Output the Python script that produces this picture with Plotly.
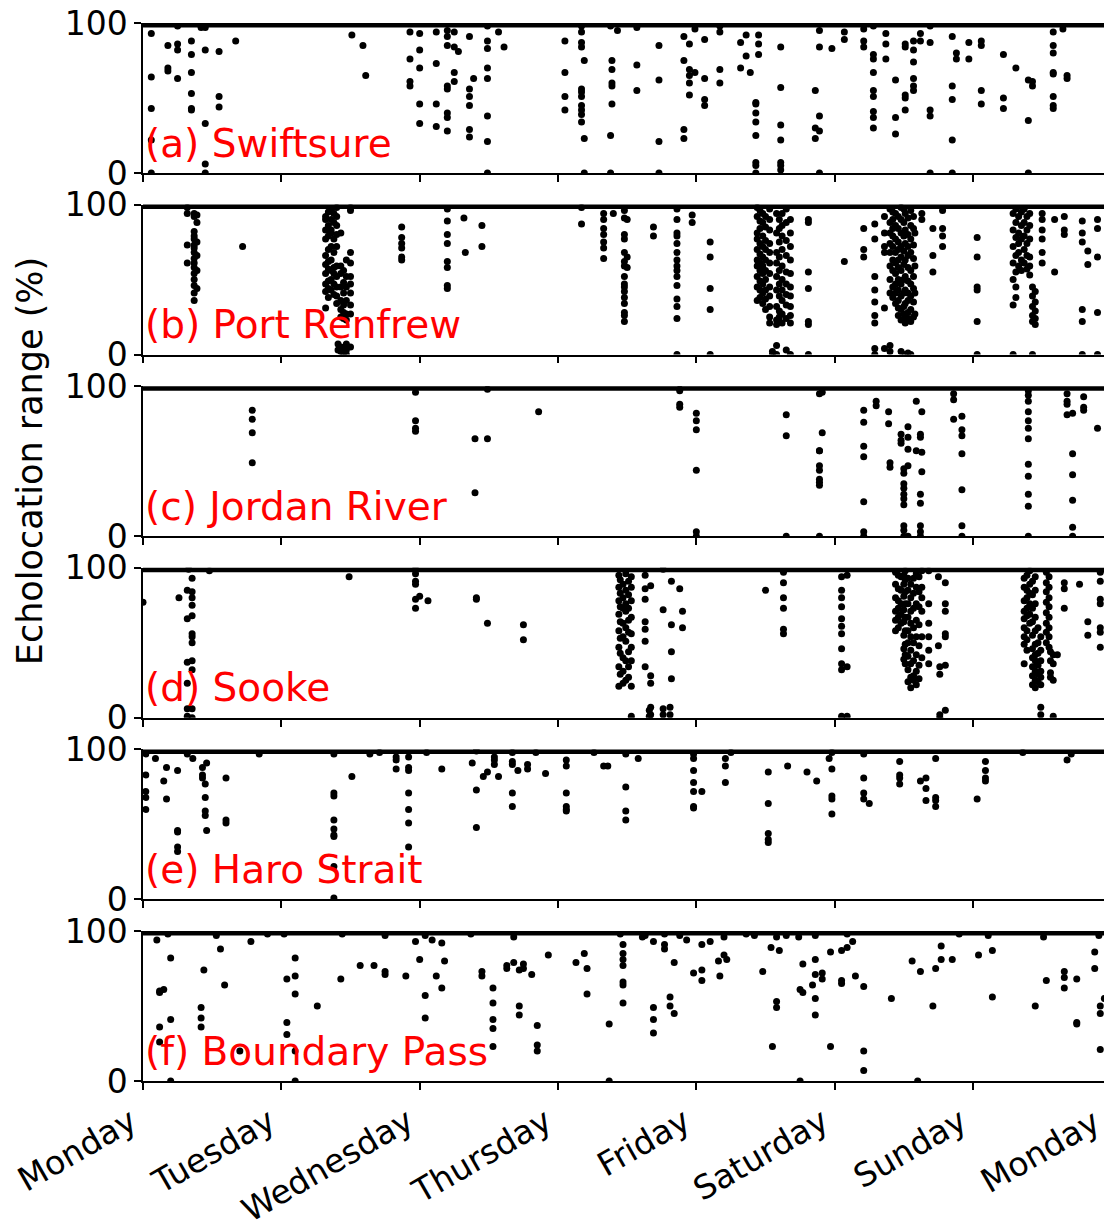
import plotly.graph_objects as go

# ---------------- data ----------------
day_names = ["Monday", "Tuesday", "Wednesday", "Thursday", "Friday",
             "Saturday", "Sunday", "Monday"]
tick_days = [0, 1, 2, 3, 4, 5, 6, 7]
week_start, week_end = 0, 7
x_view_end = 6.947          # the week runs slightly past the right edge
max_range = 100
y_ticks = [0, 100]

panel_titles = ["(a) Swiftsure", "(b) Port Renfrew", "(c) Jordan River",
                "(d) Sooke", "(e) Haro Strait", "(f) Boundary Pass"]

# (day since Monday, [echolocation range % detections])
swiftsure = [
    (0.06, [93, 64, 43, 22, 0]), (0.18, [85, 70, 68]), (0.25, [98, 86, 82, 63]),
    (0.35, [88, 79, 67, 53, 43, 42]), (0.42, [98, 97]), (0.45, [97, 82, 33, 6, 0]),
    (0.55, [81, 51, 44]), (0.67, [88]), (1.51, [92]), (1.59, [85]), (1.61, [65]),
    (1.93, [94, 76, 61, 58]), (2.00, [93, 82, 70, 46, 33]), (2.12, [94, 73, 46, 31]),
    (2.20, [95, 91, 85, 58, 56, 40, 37, 28]), (2.25, [94, 84, 67, 61]), (2.28, [81]),
    (2.36, [91, 56, 51, 45, 29, 24]), (2.39, [63]),
    (2.49, [98, 88, 83, 70, 63, 38, 21, 0]), (2.57, [94]), (2.61, [84]),
    (3.05, [88, 67, 51, 42]), (3.17, [98, 94, 87, 84, 56, 54, 51, 45, 42, 39, 34]),
    (3.19, [75, 23, 0]), (3.38, [98, 25, 0]), (3.39, [75, 69, 60, 58, 46]),
    (3.43, [95]), (3.57, [97, 72, 55]), (3.73, [85, 62, 21, 0]),
    (3.91, [91, 75, 29, 23]), (3.95, [86, 69, 65, 60, 52]), (3.99, [96, 67]),
    (4.06, [89, 63, 49, 45]), (4.17, [98, 94, 69, 60]), (4.32, [87, 70]),
    (4.36, [92, 78]), (4.39, [67]), (4.43, [47, 46, 40, 34, 25, 7, 5, 0]),
    (4.45, [92, 86, 79]), (4.61, [84, 57, 32, 22, 7, 5, 2]), (4.86, [55, 30, 23]),
    (4.89, [95, 84, 38, 28, 0]), (4.98, [83]), (5.07, [94, 89]), (5.21, [96, 88, 84]),
    (5.28, [98, 79, 76, 67, 55, 51, 41, 37, 30]), (5.37, [93, 86, 76]),
    (5.44, [62, 37, 26]), (5.51, [86, 84, 52, 50, 42]), (5.57, [88, 82, 74, 63, 58, 55]),
    (5.62, [93, 88]), (5.69, [98, 87, 42, 38, 0]), (5.85, [91, 58, 49, 22, 0]),
    (5.88, [80, 76]), (5.97, [87, 76]), (6.06, [88, 85, 55, 46]), (6.22, [79, 50, 43]),
    (6.31, [70]), (6.40, [62, 35, 0]), (6.43, [61, 58]),
    (6.58, [94, 85, 80, 67, 66, 51, 45, 43]), (6.65, [96]), (6.68, [65, 63]),
]

port_renfrew = [
    (0.32, [98, 94, 73, 61]),
    (0.37, [94, 92, 82, 79, 77, 73, 71, 68, 64, 61, 58, 54, 50, 46, 41, 36]),
    (0.39, [93, 88, 75, 66, 56, 44]), (0.72, [72]),
    (1.32, [92, 90, 83, 77, 66, 60, 54, 47, 42, 31]),
    (1.34, [95, 86, 79, 70, 62, 57, 49, 44, 38]),
    (1.36, [96, 90, 83, 81, 72, 63, 56, 50, 43]),
    (1.38, [94, 88, 77, 68, 58, 54, 47, 40]),
    (1.40, [98, 92, 86, 80, 72, 59, 52, 45, 39, 34]), (1.41, [7, 3]),
    (1.43, [81, 59, 54, 45, 36, 30, 25, 5, 2]),
    (1.45, [56, 48, 41, 33, 28, 24, 4, 1]),
    (1.47, [63, 52, 45, 36, 27, 23, 7, 3, 0]),
    (1.50, [98, 96, 68, 61, 52, 47, 41, 33, 27, 5]),
    (1.87, [85, 78, 74, 71, 65, 63]), (2.20, [97, 89, 80, 74, 62, 58, 46, 44]),
    (2.32, [91]), (2.33, [68]), (2.45, [86, 72]),
    (3.17, [98, 87]), (3.33, [94, 90, 84, 80, 75, 71, 64]), (3.40, [94]),
    (3.48, [96, 91, 80, 77, 68, 62, 59, 52, 47, 45, 42, 38, 34, 28, 26, 22]),
    (3.50, [90, 65, 58]), (3.69, [85, 79]),
    (3.86, [97, 90, 81, 79, 74, 68, 63, 59, 56, 52, 46, 37, 32, 24, 0]),
    (3.97, [93, 88]), (4.10, [75, 65, 44, 30, 0]),
    (4.44, [98, 92, 81, 77, 70, 63, 59, 52, 45, 36]),
    (4.46, [96, 89, 84, 74, 67, 61, 56, 49, 43, 38]),
    (4.48, [94, 88, 79, 72, 65, 59, 54, 47, 41, 34]),
    (4.50, [92, 85, 76, 70, 63, 56, 50, 43, 37, 30]),
    (4.53, [97, 90, 83, 74, 68, 61, 54, 45, 39, 32, 25, 21]), (4.55, [2, 0]),
    (4.58, [94, 81, 68, 61, 52, 43, 32, 23, 20, 6, 0]),
    (4.60, [90, 84, 75, 65, 56, 47, 39, 29, 25, 22]),
    (4.62, [94, 86, 79, 70, 59, 50, 43, 36, 27, 21]),
    (4.65, [97, 88, 76, 66, 55, 47, 40, 33, 24, 3]),
    (4.68, [90, 81, 72, 63, 54, 45, 39, 32, 26, 21, 0]),
    (4.81, [90, 88, 55, 44, 22, 20, 0]), (5.07, [62]), (5.21, [84, 70, 65]),
    (5.29, [87, 77, 52, 43, 35, 26, 21, 4, 0]), (5.36, [92, 81, 72, 68, 31, 4]),
    (5.40, [97, 88, 81, 74, 68, 59, 50, 41, 6, 2]),
    (5.42, [95, 90, 84, 79, 72, 63, 56, 45, 38]),
    (5.44, [94, 86, 77, 68, 61, 54, 47, 41, 34]),
    (5.46, [92, 84, 75, 70, 63, 58, 50, 43, 36, 31, 26]),
    (5.48, [98, 90, 81, 72, 65, 56, 47, 39, 30, 23, 2]),
    (5.50, [97, 88, 79, 69, 60, 50, 41, 32, 27, 23]),
    (5.51, [94, 83, 74, 63, 52, 43, 34, 25, 21, 0]),
    (5.53, [91, 80, 72, 66, 58, 49, 41, 36, 28, 24, 1]),
    (5.55, [96, 86, 77, 68, 56, 47, 39, 30, 22, 0]),
    (5.57, [92, 84, 73, 64, 52, 44, 35, 25]), (5.58, [81, 59, 41, 27]),
    (5.63, [94, 90]), (5.71, [84, 66, 55]), (5.78, [96, 84, 79, 72]),
    (6.03, [78, 65, 45, 43, 22, 0]), (6.29, [94, 83, 72, 61, 50, 33, 0]),
    (6.31, [97, 88, 78, 66, 55, 45, 38]),
    (6.33, [92, 81, 74, 68, 59]), (6.35, [95, 86, 77, 63, 56]),
    (6.37, [97, 88, 79, 70, 61]), (6.39, [92, 83, 74, 66, 57]),
    (6.41, [94, 86, 77, 65, 59, 53]), (6.43, [45, 39, 32, 26, 22, 0]),
    (6.45, [42, 35, 29, 24, 20]),
    (6.50, [94, 90, 83, 77, 68, 61]), (6.59, [90, 55]), (6.66, [92, 83, 80]),
    (6.79, [89, 81, 75, 30, 22, 0]), (6.83, [69, 60]), (6.90, [90, 84, 65, 28, 0]),
]

jordan_river = [
    (0.79, [84, 78, 69, 49]), (1.97, [96, 77, 72, 70]), (2.40, [65, 29]),
    (2.49, [98, 65]), (2.86, [83]), (3.88, [98, 97, 88, 86]),
    (4.00, [82, 77, 71, 44, 3, 0]), (4.65, [81, 67, 0]),
    (4.89, [95, 57, 57, 47, 44, 38, 36, 34, 0]), (4.91, [96, 69]),
    (5.21, [84, 76, 60, 53, 23, 3, 0]), (5.30, [90, 87]), (5.39, [83, 75]),
    (5.40, [49, 46]), (5.48, [68, 64, 62]),
    (5.50, [45, 42, 35, 32, 28, 25, 21, 7, 4, 0]), (5.53, [73, 66, 58, 47, 0]),
    (5.59, [90, 57]), (5.62, [68, 66, 28, 22, 7, 3, 0]), (5.63, [83, 56, 43]),
    (5.86, [95, 91, 78]), (5.92, [80, 71, 67, 55, 31, 7, 0]),
    (6.40, [97, 94, 90, 83, 77, 72, 65, 48, 40, 28, 20, 0]),
    (6.68, [95, 90, 88, 81]), (6.72, [82, 55, 41, 24, 6, 0]),
    (6.80, [93, 86, 84]), (6.90, [72]),
]

sooke = [
    (0.00, [77]), (0.26, [80]), (0.32, [85, 66, 37, 23, 6, 1]), (0.33, [99]),
    (0.355, [93, 84, 80, 75, 68, 56, 54, 50, 38, 32, 6, 0]), (0.48, [98]),
    (1.49, [94]), (1.97, [99, 96, 91, 89, 79, 73]), (2.00, [81]), (2.06, [78]),
    (2.41, [80, 79]), (2.49, [63]), (2.75, [62, 52]),
    (3.44, [95, 87, 78, 69, 58, 47, 34, 21]), (3.45, [92, 83, 74, 64, 53, 43, 29]),
    (3.47, [89, 80, 73, 63, 54, 40, 31, 23]),
    (3.49, [96, 85, 76, 71, 60, 51, 38, 25]), (3.51, [91, 82, 73, 65, 57, 44, 34, 27]),
    (3.53, [94, 87, 78, 67, 56, 47, 38, 21, 1]),
    (3.63, [95, 86, 79, 64, 59, 51, 34]), (3.66, [5, 1]), (3.67, [88, 28, 23, 7, 2]),
    (3.76, [99, 72, 6, 2]), (3.81, [7, 2]), (3.82, [91, 62, 44, 26]), (3.88, [86]),
    (3.90, [71, 60]), (4.50, [85]), (4.63, [97, 90, 80, 73, 59, 56]),
    (5.05, [94, 85, 80, 74, 66, 61, 56, 46, 36, 32, 1]), (5.09, [95, 34, 1]),
    (5.44, [97, 89, 80, 71, 65, 58]), (5.46, [95, 86, 78, 73, 67, 60]),
    (5.48, [94, 85, 76, 69, 63]), (5.50, [95, 89, 81, 72, 64, 55, 46, 39]),
    (5.51, [98, 92, 84, 76, 67, 58, 49, 42, 36]),
    (5.53, [93, 85, 76, 67, 58, 50, 41, 32, 24]),
    (5.55, [89, 80, 71, 63, 54, 45, 36, 27, 20]),
    (5.57, [93, 83, 73, 60, 50, 38, 28, 25]),
    (5.59, [96, 87, 76, 65, 54, 42, 31, 22]), (5.61, [94, 84, 74, 62, 48, 35, 26]),
    (5.63, [98, 87, 80, 71, 54, 40]),
    (5.68, [98, 76, 63, 54, 45, 36]), (5.75, [94, 48]), (5.76, [34, 29, 2, 0]),
    (5.80, [90, 76, 71, 56, 54, 35, 5]),
    (6.37, [93, 87, 78, 71, 66, 60, 54, 49, 36]),
    (6.39, [95, 85, 80, 73, 68, 58, 52, 45]),
    (6.41, [98, 89, 83, 76, 69, 63]),
    (6.43, [91, 82, 73, 64, 55, 46, 40, 34, 28, 22]),
    (6.45, [94, 85, 76, 67, 58, 49, 42, 38, 31, 25, 20]),
    (6.47, [60, 50, 43, 35, 29, 24]),
    (6.49, [54, 45, 38, 31, 27, 22, 7, 2]),
    (6.53, [97, 90, 84, 77, 70, 63, 57, 50]),
    (6.55, [94, 87, 80, 74, 67, 60, 54, 47]), (6.56, [44, 38, 30, 27]),
    (6.58, [42, 36, 25, 1]), (6.61, [42]), (6.66, [90, 86, 73]), (6.77, [89]),
    (6.83, [64, 55]), (6.92, [97, 91, 79, 76, 60, 57, 47]),
]

haro_strait = [
    (0.02, [97, 83, 72, 68, 60]), (0.09, [94]), (0.15, [79]), (0.17, [88, 67]),
    (0.25, [86, 46, 45, 35, 32]), (0.32, [97]), (0.36, [94]), (0.43, [88, 83, 81]),
    (0.45, [77, 68, 59, 56]), (0.46, [91, 46]), (0.60, [81, 53, 51]), (0.84, [97]),
    (1.38, [97, 71, 69, 53, 47, 43, 42, 22, 1]), (1.51, [82]), (1.64, [97]),
    (1.71, [98]), (1.83, [95, 93, 87]), (1.92, [95, 88, 86, 71, 60, 51, 35]),
    (2.05, [98]), (2.16, [87]), (2.38, [91]), (2.41, [99, 73, 48]), (2.46, [82]),
    (2.49, [85]), (2.54, [95, 93, 90]), (2.57, [82]), (2.67, [98, 92, 90, 71, 62]),
    (2.71, [86]), (2.78, [90, 87]), (2.84, [98]), (2.91, [84]),
    (3.06, [93, 89, 71, 62, 60, 59]), (3.26, [98]), (3.33, [89]), (3.36, [89]),
    (3.49, [97, 75, 59, 53]), (3.58, [94]), (3.98, [97, 94, 86, 78, 72, 62, 61]),
    (4.04, [72]), (4.21, [94, 89, 78]), (4.25, [98]), (4.52, [85, 64, 44, 40, 38]),
    (4.66, [89]), (4.80, [85]), (4.87, [79]), (4.96, [94]),
    (4.98, [98, 87, 69, 67, 57]), (5.21, [97, 81, 71, 67]), (5.25, [64]),
    (5.47, [92, 83, 81, 77]), (5.62, [79]), (5.66, [81, 74, 66]),
    (5.73, [94, 68, 66, 62]), (6.03, [67]), (6.09, [92, 86, 81, 79]), (6.36, [98]),
    (6.68, [93]), (6.71, [97]),
]

boundary_pass = [
    (0.10, [94]), (0.12, [60, 59, 36, 26]), (0.15, [61]), (0.18, [98]),
    (0.20, [82, 41, 0]), (0.42, [49, 42, 36]), (0.44, [74]), (0.53, [97]),
    (0.56, [88]), (0.59, [64]), (0.70, [20]), (0.78, [93]), (0.90, [98]),
    (1.02, [98]), (1.04, [68, 39, 31]), (1.10, [82, 70, 58, 20, 0]), (1.26, [50]),
    (1.43, [68]), (1.44, [98]), (1.57, [77]), (1.67, [77]), (1.75, [97, 73, 71]),
    (1.90, [70]), (1.97, [93]), (2.00, [81]), (2.04, [97, 57, 42]), (2.09, [94]),
    (2.12, [70]), (2.16, [92, 62]), (2.18, [80]), (2.37, [98]), (2.45, [73, 70]),
    (2.53, [62, 52, 41, 35, 23]), (2.63, [77, 75]), (2.68, [96, 79]),
    (2.72, [74, 50, 44]), (2.75, [78, 75]), (2.81, [71]), (2.85, [37, 24, 20]),
    (2.93, [84]), (3.13, [79]), (3.19, [85]), (3.21, [75, 58]), (3.37, [38, 0]),
    (3.45, [98]), (3.47, [91, 85, 81, 77, 66, 64, 52]), (3.61, [96]), (3.63, [97]),
    (3.69, [93, 49, 41, 32]), (3.77, [98, 91, 88]), (3.81, [56, 50]),
    (3.84, [79, 45]), (3.88, [97]), (3.93, [94]), (3.98, [72]), (4.04, [91, 74, 67]),
    (4.10, [93]), (4.16, [80]), (4.17, [70]), (4.20, [96, 84]), (4.22, [81]),
    (4.36, [98]), (4.42, [97]), (4.48, [73]), (4.54, [89]), (4.55, [23]),
    (4.58, [96, 53, 49]), (4.60, [87]), (4.65, [97]), (4.74, [96]), (4.75, [61, 0]),
    (4.77, [78, 59]), (4.84, [64]), (4.86, [97, 81, 71, 55, 44]), (4.91, [72, 68]),
    (4.97, [86, 23]), (5.05, [87, 67, 65]), (5.09, [98, 89]), (5.13, [93]),
    (5.15, [70]), (5.21, [63, 20, 7]), (5.41, [55]), (5.56, [80]), (5.60, [0]),
    (5.62, [73]), (5.71, [50]), (5.73, [75]), (5.77, [90, 81]), (5.85, [81]),
    (5.90, [98]), (6.04, [84]), (6.11, [97]), (6.14, [87, 56]), (6.45, [50]),
    (6.51, [96]), (6.53, [67]), (6.66, [73, 69, 62]), (6.75, [68, 39, 38]),
    (6.88, [86, 75]), (6.91, [97]), (6.92, [50, 45, 21]), (6.95, [55]),
]

panels = [swiftsure, port_renfrew, jordan_river, sooke, haro_strait, boundary_pass]

# ---------------- layout geometry ----------------
W, H = 1104, 1222
ML, MR, MT, MB = 143, 0, 23, 141
plot_w = W - ML - MR
plot_h = H - MT - MB
panel_h = 150.0
pitch = 181.6

FONT = "DejaVu Sans"
TICK_ANGLE = -30
LABEL_SHIFT = -12
fig = go.Figure()
layout = dict(
    width=W, height=H,
    margin=dict(l=ML, r=MR, t=MT, b=MB, pad=0, autoexpand=False),
    paper_bgcolor="white", plot_bgcolor="white",
    showlegend=False,
    font=dict(family=FONT, color="black", size=33),
    annotations=[],
)

n_panels = len(panels)
for i, (title, data) in enumerate(zip(panel_titles, panels)):
    n = i + 1
    xa = "x" if n == 1 else f"x{n}"
    ya = "y" if n == 1 else f"y{n}"
    xs = [d for d, vals in data for _ in vals]
    ys = [v for d, vals in data for v in vals]
    top = i * pitch
    dom = [1 - (top + panel_h) / plot_h, 1 - top / plot_h]
    last = (n == n_panels)

    # detections saturated at the maximum range form a continuous band
    fig.add_trace(go.Scatter(x=[week_start, week_end], y=[max_range, max_range],
                             mode="lines", line=dict(color="black", width=9),
                             xaxis=xa, yaxis=ya, hoverinfo="skip"))
    fig.add_trace(go.Scatter(x=xs, y=ys, mode="markers",
                             marker=dict(color="black", size=7, line=dict(width=0)),
                             xaxis=xa, yaxis=ya, cliponaxis=True))

    layout["xaxis" if n == 1 else f"xaxis{n}"] = dict(
        domain=[0, 1], range=[week_start, x_view_end], anchor=ya,
        tickvals=tick_days, ticktext=day_names, showticklabels=last,
        tickangle=TICK_ANGLE, tickfont=dict(size=33, family=FONT),
        ticklabelshift=LABEL_SHIFT, automargin=False,
        ticks="outside", ticklen=7, tickwidth=1.5, tickcolor="black",
        showline=True, linecolor="black", linewidth=1.5,
        showgrid=False, zeroline=False, fixedrange=True,
    )
    layout["yaxis" if n == 1 else f"yaxis{n}"] = dict(
        domain=dom, range=[0, max_range], anchor=xa, automargin=False,
        tickvals=y_ticks, ticktext=[str(v) for v in y_ticks],
        tickfont=dict(size=33, family=FONT),
        ticks="outside", ticklen=7, tickwidth=1.5, tickcolor="black",
        showline=True, linecolor="black", linewidth=1.5,
        showgrid=False, zeroline=False, fixedrange=True,
    )
    layout["annotations"].append(dict(
        text=title, xref=f"{xa} domain", yref=ya, x=0, y=20,
        xanchor="left", yanchor="middle", showarrow=False,
        font=dict(size=39, color="red", family=FONT),
    ))

# last "Monday" label sits at the (cropped) end of the week
layout["annotations"].append(dict(
    text=day_names[-1], xref="paper", yref="paper",
    x=(tick_days[-1] - week_start) / (x_view_end - week_start), y=0,
    xanchor="right", yanchor="top", yshift=-18, xshift=LABEL_SHIFT + 9,
    textangle=TICK_ANGLE,
    showarrow=False, font=dict(size=33, family=FONT, color="black"),
))

# shared y-axis title, centred on panel (c)
mid_dom = layout["yaxis3"]["domain"]
layout["annotations"].append(dict(
    text="Echolocation range (%)", xref="paper", yref="paper",
    x=(30 - ML) / plot_w, y=(mid_dom[0] + mid_dom[1]) / 2,
    xanchor="center", yanchor="middle", textangle=-90, showarrow=False,
    font=dict(size=35, family=FONT, color="black"),
))

fig.update_layout(**layout)
fig.write_html("out.html")
